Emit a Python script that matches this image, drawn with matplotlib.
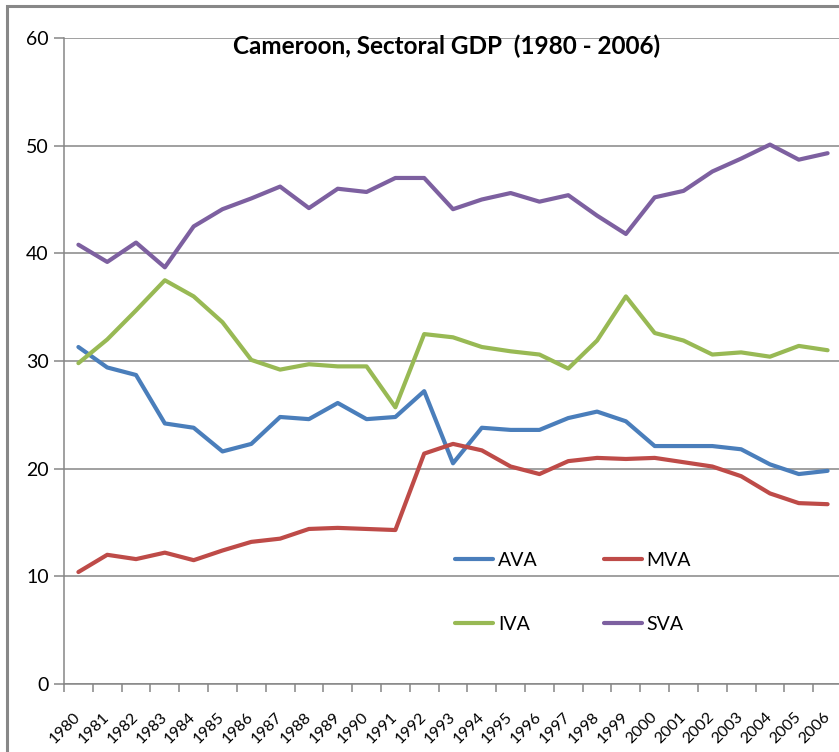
import matplotlib
matplotlib.use("Agg")
import matplotlib.pyplot as plt
from matplotlib.patches import Rectangle
import numpy as np

years = [str(y) for y in range(1980, 2007)]
AVA = [31.3, 29.4, 28.7, 24.2, 23.8, 21.6, 22.3, 24.8, 24.6, 26.1, 24.6, 24.8, 27.2,
       20.5, 23.8, 23.6, 23.6, 24.7, 25.3, 24.4, 22.1, 22.1, 22.1, 21.8, 20.4, 19.5, 19.8]
MVA = [10.4, 12.0, 11.6, 12.2, 11.5, 12.4, 13.2, 13.5, 14.4, 14.5, 14.4, 14.3, 21.4,
       22.3, 21.7, 20.2, 19.5, 20.7, 21.0, 20.9, 21.0, 20.6, 20.2, 19.3, 17.7, 16.8, 16.7]
IVA = [29.8, 32.0, 34.7, 37.5, 36.0, 33.6, 30.1, 29.2, 29.7, 29.5, 29.5, 25.7, 32.5,
       32.2, 31.3, 30.9, 30.6, 29.3, 31.9, 36.0, 32.6, 31.9, 30.6, 30.8, 30.4, 31.4, 31.0]
SVA = [40.8, 39.2, 41.0, 38.7, 42.5, 44.1, 45.1, 46.2, 44.2, 46.0, 45.7, 47.0, 47.0,
       44.1, 45.0, 45.6, 44.8, 45.4, 43.5, 41.8, 45.2, 45.8, 47.6, 48.8, 50.1, 48.7, 49.3]
yticks = [0, 10, 20, 30, 40, 50, 60]
title = "Cameroon, Sectoral GDP  (1980 - 2006)"

plt.rcParams['font.family'] = ['Lato', 'DejaVu Sans']

W, H = 839, 752
fig = plt.figure(figsize=(W / 100, H / 100), dpi=100)

# outer chart border
fig.patches.append(Rectangle((7 / W, -0.1), 1.2, 1 - 6 / H + 0.1, transform=fig.transFigure,
                             fill=False, edgecolor='#888888', linewidth=2.2))

ax = fig.add_axes([64 / W, (H - 684) / H, (842 - 64) / W, (684 - 38) / H])
x = np.arange(len(years))
series = [("AVA", AVA, '#4A7EBB'), ("MVA", MVA, '#BE4B48'),
          ("IVA", IVA, '#98B954'), ("SVA", SVA, '#7D60A0')]
lines = {}
for name, vals, c in series:
    ln, = ax.plot(x, vals, color=c, lw=3.0, label=name, solid_capstyle='round',
                  solid_joinstyle='round')
    lines[name] = ln

ax.set_xlim(-0.5, len(years) - 0.5)
ax.set_ylim(0, 60)
ax.set_yticks(yticks)
ax.set_yticklabels([str(v) for v in yticks], fontsize=14)
ax.grid(axis='y', color='#868686', lw=1.1)
ax.set_axisbelow(True)
ax.set_xticks(np.arange(-0.5, len(years), 1.0))
ax.set_xticklabels([])
ax.set_xticks(x, minor=True)
ax.set_xticklabels(years, minor=True, rotation=45, ha='right', va='center',
                   rotation_mode='anchor', fontsize=11.5)
ax.tick_params(axis='x', which='minor', length=0, pad=22)
ax.tick_params(axis='x', which='major', length=6, color='#868686', width=1.1)
ax.tick_params(axis='y', length=7, color='#868686', width=1.1, pad=4)
for s in ['top', 'right']:
    ax.spines[s].set_visible(False)
for s in ['left', 'bottom']:
    ax.spines[s].set_color('#868686')
    ax.spines[s].set_linewidth(1.1)

ax.text(0.492, 1.006, title, transform=ax.transAxes, ha='center', va='top',
        fontsize=17.5, fontweight='bold')

order = ["AVA", "IVA", "MVA", "SVA"]
leg = ax.legend([lines[n] for n in order], order, loc='upper left',
                bbox_to_anchor=(0.5026, 0.205), ncol=2, frameon=False,
                fontsize=14, handlelength=1.95, handletextpad=0.25, columnspacing=3.4,
                labelspacing=2.45, borderpad=0, borderaxespad=0)

fig.savefig("out.png", dpi=100)
